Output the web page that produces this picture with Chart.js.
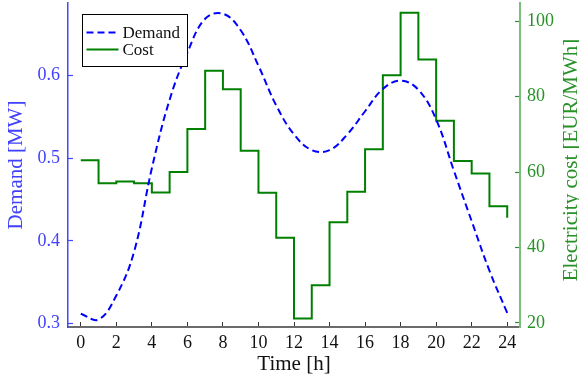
<!DOCTYPE html>
<html>
<head>
<meta charset="utf-8">
<script src="https://cdn.jsdelivr.net/npm/chart.js@4/dist/chart.umd.min.js"></script>
<style>
  html, body { margin: 0; padding: 0; background: #fff; }
  #wrap { width: 579px; height: 382px; }
</style>
</head>
<body>
<div id="wrap"><canvas id="myChart" width="579" height="382"></canvas></div>
<script>
// hourly demand [MW]
const demandHours = [0, 1, 2, 3, 4, 5, 6, 7, 8, 9, 10, 11, 12, 13, 14, 15, 16, 17, 18, 19, 20, 21, 22, 23, 24];
const demand = [0.312, 0.305, 0.334, 0.387, 0.488, 0.571, 0.628, 0.669, 0.675, 0.655, 0.612, 0.564, 0.529,
  0.510, 0.510, 0.529, 0.557, 0.584, 0.594, 0.583, 0.547, 0.485, 0.424, 0.364, 0.313];

// electricity cost per hour, held until the next hour [EUR/MWh]
const costHours = [0, 1, 2, 3, 4, 5, 6, 7, 8, 9, 10, 11, 12, 13, 14, 15, 16, 17, 18, 19, 20, 21, 22, 23, 24];
const cost = [63.1, 57.0, 57.5, 57.0, 54.6, 60.0, 71.4, 86.8, 81.9, 65.6, 54.5, 42.6, 21.2,
  30.0, 46.7, 54.8, 66.0, 85.6, 102.2, 89.8, 73.6, 62.9, 59.6, 50.9, 47.9];

// tick values
const xTicks = [0, 2, 4, 6, 8, 10, 12, 14, 16, 18, 20, 22, 24];
const demandTicks = [0.3, 0.4, 0.5, 0.6];
const costTicks = [20, 40, 60, 80, 100];

const FONT = '"Liberation Serif", "Times New Roman", serif';
const BLUE_TXT = "rgb(64, 64, 255)";
const GREEN_TXT = "rgb(40, 145, 40)";

// fixed box sizes, no extra room for overhanging tick labels
function fixSize(scale, w, h) {
  if (w) scale.width = w;
  if (h) scale.height = h;
  scale.paddingTop = 0;
  scale.paddingBottom = 0;
  scale.paddingLeft = 0;
  scale.paddingRight = 0;
}

// legend with a frame, drawn inside the plot (top left)
const boxLegend = {
  id: "boxLegend",
  afterDraw(chart) {
    const { ctx, chartArea } = chart;
    const x0 = chartArea.left + 14.5;
    const y0 = chartArea.top + 11.5;
    ctx.save();
    ctx.fillStyle = "#fff";
    ctx.fillRect(x0, y0, 105, 52);
    ctx.strokeStyle = "#000";
    ctx.lineWidth = 1;
    ctx.strokeRect(x0, y0, 105, 52);
    ctx.font = "17px " + FONT;
    ctx.textBaseline = "middle";
    chart.data.datasets.forEach((ds, i) => {
      const y = y0 + 18 + i * 17;
      ctx.beginPath();
      ctx.setLineDash(ds.borderDash || []);
      ctx.strokeStyle = ds.borderColor;
      ctx.lineWidth = 2;
      ctx.moveTo(x0 + 4, y);
      ctx.lineTo(x0 + 36, y);
      ctx.stroke();
      ctx.setLineDash([]);
      ctx.fillStyle = "#111";
      ctx.fillText(ds.label, x0 + 40, y + 1);
    });
    ctx.restore();
  },
};

// right axis title reads bottom to top, like the left one
const rightTitle = {
  id: "rightTitle",
  afterDraw(chart) {
    const { ctx, chartArea } = chart;
    ctx.save();
    ctx.translate(577, (chartArea.top + chartArea.bottom) / 2 - 5);
    ctx.rotate(-Math.PI / 2);
    ctx.font = "21px " + FONT;
    ctx.fillStyle = GREEN_TXT;
    ctx.textAlign = "center";
    ctx.textBaseline = "alphabetic";
    ctx.fillText("Electricity cost [EUR/MWh]", 0, 0);
    ctx.restore();
  },
};

const ctx = document.getElementById("myChart").getContext("2d");

new Chart(ctx, {
  type: "line",
  data: {
    datasets: [
      {
        label: "Demand",
        data: demandHours.map((h, i) => ({ x: h, y: demand[i] })),
        yAxisID: "yL",
        borderColor: "#0000ff",
        borderWidth: 2,
        borderDash: [7, 4],
        pointRadius: 0,
        tension: 0.4,
        fill: false,
      },
      {
        label: "Cost",
        data: costHours.map((h, i) => ({ x: h, y: cost[i] })),
        yAxisID: "yR",
        borderColor: "#008000",
        borderWidth: 2,
        stepped: "before",
        pointRadius: 0,
        fill: false,
      },
    ],
  },
  options: {
    responsive: false,
    animation: false,
    layout: { padding: { top: 3, left: 0, right: 0, bottom: 0 } },
    plugins: {
      legend: { display: false },
      tooltip: { enabled: false },
    },
    scales: {
      x: {
        type: "linear",
        position: "bottom",
        min: -0.72,
        max: 24.72,
        afterBuildTicks: (scale) => { scale.ticks = xTicks.map((v) => ({ value: v })); },
        afterFit: (scale) => fixSize(scale, 0, 55),
        border: { color: "#6b6b6b", width: 2 },
        grid: { drawOnChartArea: false, color: "#333", tickLength: -5, tickWidth: 1 },
        ticks: {
          color: "#111",
          padding: 10,
          maxRotation: 0,
          font: { family: FONT, size: 18 },
          callback: (v) => String(v),
        },
        title: {
          display: true,
          text: "Time [h]",
          color: "#111",
          padding: { top: 0, bottom: 5 },
          font: { family: FONT, size: 21 },
        },
      },
      yL: {
        type: "linear",
        position: "left",
        min: 0.2959,
        max: 0.688,
        afterBuildTicks: (scale) => { scale.ticks = demandTicks.map((v) => ({ value: v })); },
        afterFit: (scale) => fixSize(scale, 68, 0),
        border: { color: "rgb(70, 70, 255)", width: 1.5 },
        grid: { drawOnChartArea: false, color: "rgb(70, 70, 255)", tickLength: -5, tickWidth: 1.2 },
        ticks: {
          color: BLUE_TXT,
          padding: 13,
          font: { family: FONT, size: 18 },
          callback: (v) => v.toFixed(1),
        },
        title: {
          display: true,
          text: "Demand [MW]",
          color: BLUE_TXT,
          padding: { top: 4, bottom: 0 },
          font: { family: FONT, size: 21 },
        },
      },
      yR: {
        type: "linear",
        position: "right",
        min: 18.94,
        max: 104.77,
        afterBuildTicks: (scale) => { scale.ticks = costTicks.map((v) => ({ value: v })); },
        afterFit: (scale) => fixSize(scale, 59, 0),
        border: { color: "rgb(125, 190, 125)", width: 2 },
        grid: { drawOnChartArea: false, color: "rgb(50, 140, 50)", tickLength: -5, tickWidth: 1.2 },
        ticks: {
          color: GREEN_TXT,
          padding: 12,
          font: { family: FONT, size: 18 },
          callback: (v) => String(v),
        },
      },
    },
  },
  plugins: [boxLegend, rightTitle],
});
</script>
</body>
</html>
